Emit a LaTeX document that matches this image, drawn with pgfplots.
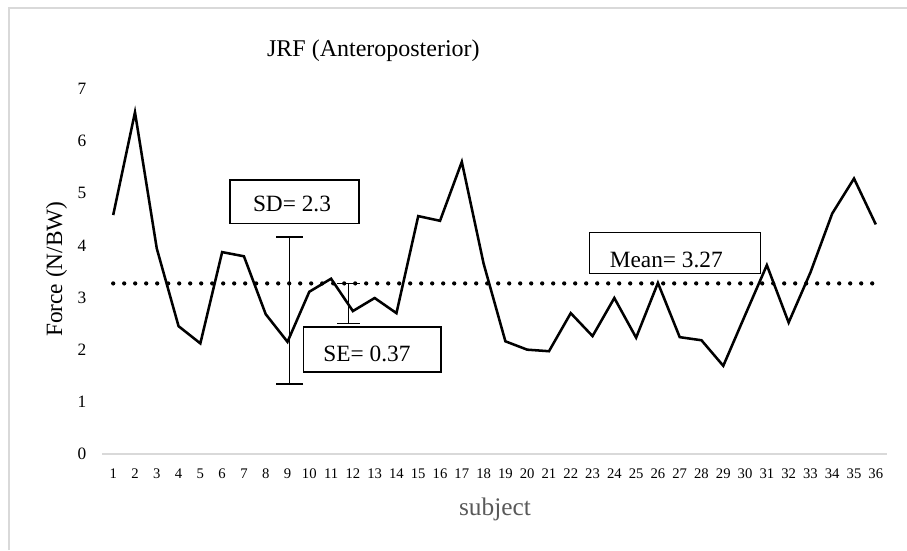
\documentclass[border=0pt]{standalone}
\usepackage{fontspec}
\setmainfont{Liberation Serif}
\usepackage{pgfplots}
\pgfplotsset{compat=1.18}
\definecolor{axisgray}{HTML}{D9D9D9}
\definecolor{labgray}{HTML}{595959}
\begin{document}
\begin{tikzpicture}[x=0.75pt,y=-0.75pt]
\useasboundingbox (0,0) rectangle (907,550);
\draw[axisgray, line width=0.8pt] (9,550) -- (9,8) -- (907,8);
\begin{axis}[
  at={(76.725pt,-340.5pt)}, anchor=south west,
  width=588.3pt, height=273.9pt, scale only axis,
  xmin=0.5, xmax=36.5, ymin=0, ymax=7,
  axis x line=bottom, axis y line=left, axis line style={-},
  x axis line style={draw=axisgray, line width=1.3pt},
  y axis line style={draw=none},
  xtick={1,...,36}, ytick={0,...,7},
  major tick length=0pt,
  xticklabel style={font=\fontsize{11pt}{12pt}\selectfont, anchor=base, yshift=-18.2pt, inner sep=0pt},
  yticklabel style={font=\fontsize{13pt}{14pt}\selectfont, anchor=east, xshift=-11.9pt, inner sep=0pt},
  /pgf/number format/assume math mode=true,
  clip=false,
]
\addplot[black, line width=1.9pt, line join=miter, mark=none] coordinates {
(1,4.58) (2,6.55) (3,3.94) (4,2.45) (5,2.12) (6,3.87) (7,3.79) (8,2.68) (9,2.15)
(10,3.11) (11,3.36) (12,2.74) (13,2.99) (14,2.70) (15,4.56) (16,4.47) (17,5.60) (18,3.65)
(19,2.16) (20,2.00) (21,1.97) (22,2.70) (23,2.26) (24,2.99) (25,2.23) (26,3.28) (27,2.24)
(28,2.18) (29,1.69) (30,2.66) (31,3.62) (32,2.52) (33,3.48) (34,4.61) (35,5.28) (36,4.40)
};
\addplot[black, line width=3.2pt, line cap=round, dash pattern=on 0pt off 8.25pt, mark=none] coordinates {(1,3.27) (36,3.27)};
\addplot[black, mark=none, error bars/.cd, y dir=both, y explicit,
  error bar style={line width=1.2pt, black},
  error mark options={rotate=90, line width=1.2pt, mark size=10pt, black}]
  coordinates {(9.1,2.754) +- (0,1.411)};
\addplot[black, mark=none, error bars/.cd, y dir=both, y explicit,
  error bar style={line width=1.2pt, black},
  error mark options={rotate=90, line width=1.2pt, mark size=8.5pt, black}]
  coordinates {(11.8,2.888) +- (0,0.383)};
\end{axis}
\node[anchor=base, inner sep=0pt, font=\fontsize{18pt}{20pt}\selectfont] at (373.4,56.7) {JRF (Anteroposterior)};
\node[anchor=base, rotate=90, inner sep=0pt, font=\fontsize{17.5pt}{20pt}\selectfont] at (62,269.2) {Force (N/BW)};
\node[anchor=base, inner sep=0pt, text=labgray, font=\fontsize{19pt}{21pt}\selectfont] at (495,515) {subject};
\draw[black, line width=1.1pt, fill=white] (230,180) rectangle (359,223.3);
\node[anchor=base, inner sep=0pt, font=\fontsize{17.5pt}{20pt}\selectfont] at (292,211.7) {SD= 2.3};
\draw[black, line width=1.1pt, fill=white] (303.3,327) rectangle (441,372);
\node[anchor=base, inner sep=0pt, font=\fontsize{17.5pt}{20pt}\selectfont] at (367,361.7) {SE= 0.37};
\draw[black, line width=1.1pt, fill=white] (589.3,232.3) rectangle (760.7,273.3);
\node[anchor=base, inner sep=0pt, font=\fontsize{17.5pt}{20pt}\selectfont] at (666.3,267.3) {Mean= 3.27};
\end{tikzpicture}
\end{document}
